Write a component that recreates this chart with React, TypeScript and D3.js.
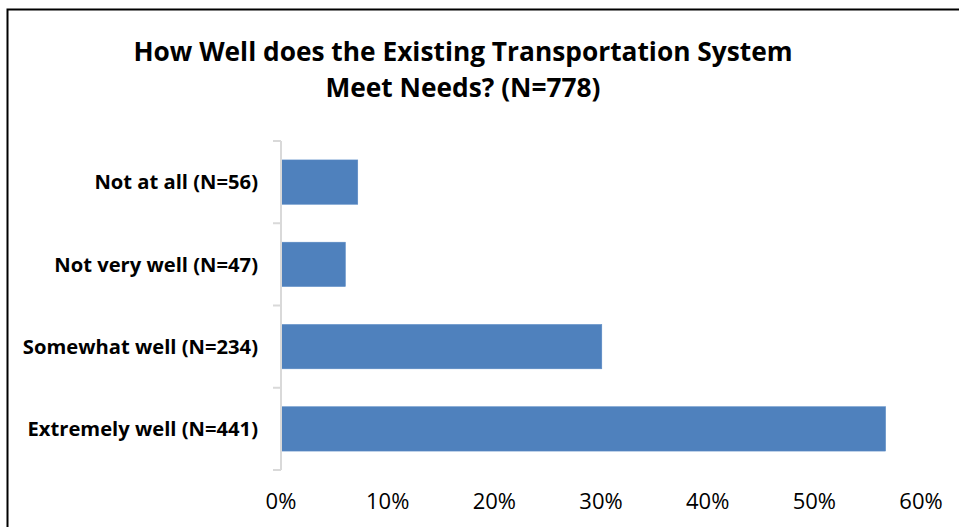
import React from "react";
import * as d3 from "d3";

const categories = [
  "Not at all (N=56)",
  "Not very well (N=47)",
  "Somewhat well (N=234)",
  "Extremely well (N=441)",
];
const counts = [56, 47, 234, 441];
const total = 778;
const xTicks = [0, 0.1, 0.2, 0.3, 0.4, 0.5, 0.6];
const titleLines = [
  "How Well does the Existing Transportation System",
  "Meet Needs? (N=778)",
];

const W = 959;
const H = 527;
const FONT = "'Open Sans', Lato, sans-serif";

export default function App() {
  const x = d3.scaleLinear().domain([0, 0.6]).range([281, 921]);
  const y = d3
    .scaleBand<string>()
    .domain(categories)
    .range([141, 470])
    .paddingInner(0.46)
    .paddingOuter(0.23);
  const step = y.step();
  const boundaries = d3.range(categories.length + 1).map((i) => 141 + i * step);
  const fmt = d3.format(".0%");

  return (
    <svg
      width={W}
      height={H}
      style={{ position: "absolute", left: 0, top: 0, background: "#fff" }}
    >
      <rect x={0} y={0} width={W} height={H} fill="#fff" />
      <rect
        x={7.5}
        y={9.5}
        width={W + 20}
        height={H + 20}
        fill="none"
        stroke="#000"
        strokeWidth={2}
      />
      {titleLines.map((t, i) => (
        <text
          key={t}
          x={463}
          y={61 + i * 36}
          textAnchor="middle"
          fontFamily={FONT}
          fontWeight={700}
          fontSize={26.3}
          fill="#000"
        >
          {t}
        </text>
      ))}
      {categories.map((c, i) => (
        <rect
          key={c}
          x={x(0)}
          y={y(c)!}
          width={x(counts[i] / total) - x(0)}
          height={y.bandwidth()}
          fill="#4F81BD"
          stroke="#5B8BC6"
          strokeWidth={0.5}
        />
      ))}
      <line
        x1={281}
        x2={281}
        y1={boundaries[0]}
        y2={boundaries[boundaries.length - 1]}
        stroke="#D9D9D9"
        strokeWidth={2}
      />
      {boundaries.map((b, i) => (
        <line key={i} x1={273} x2={281} y1={b} y2={b} stroke="#D9D9D9" strokeWidth={2} />
      ))}
      {categories.map((c) => (
        <text
          key={c}
          x={258}
          y={y(c)! + y.bandwidth() / 2}
          dy="0.36em"
          textAnchor="end"
          fontFamily={FONT}
          fontWeight={700}
          fontSize={20.2}
          fill="#000"
        >
          {c}
        </text>
      ))}
      {xTicks.map((t) => (
        <text
          key={t}
          x={x(t)}
          y={509}
          textAnchor="middle"
          fontFamily={FONT}
          fontSize={22}
          fill="#000"
        >
          {fmt(t)}
        </text>
      ))}
    </svg>
  );
}
